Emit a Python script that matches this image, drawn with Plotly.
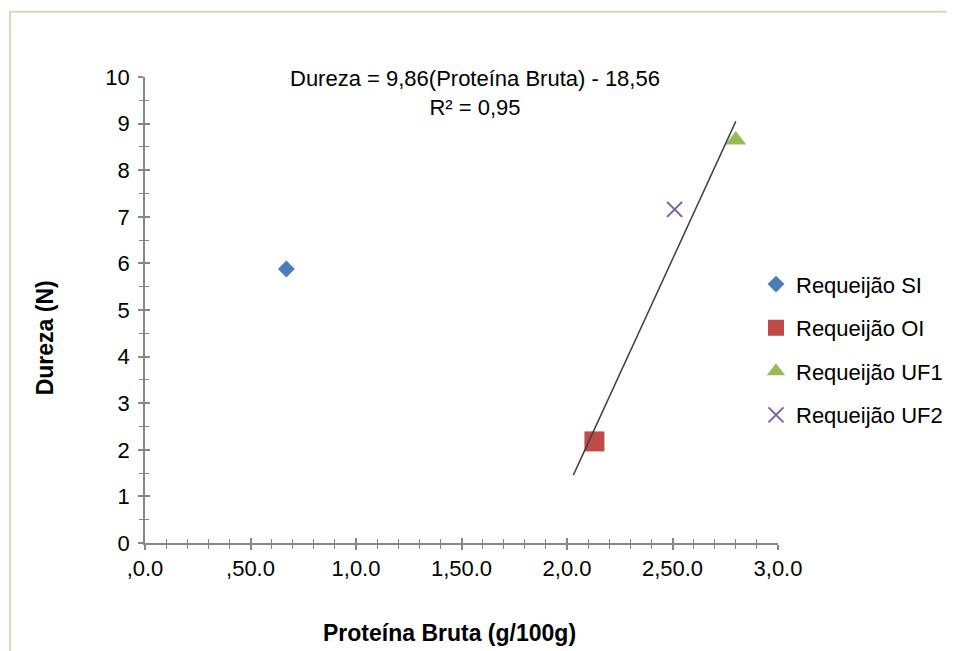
import plotly.graph_objects as go

# ---- data ----
series_names = ["Requeijão SI", "Requeijão OI", "Requeijão UF1", "Requeijão UF2"]
protein = [0.67, 2.13, 2.80, 2.51]
hardness = [5.88, 2.18, 8.65, 7.16]

trend_slope = 9.86
trend_intercept = -18.56
trend_x = [2.03, 2.80]

x_tickvals = [0.0, 0.5, 1.0, 1.5, 2.0, 2.5, 3.0]
x_ticktext = [",0.0", ",50.0", "1,0.0", "1,50.0", "2,0.0", "2,50.0", "3,0.0"]
y_tickvals = [0, 1, 2, 3, 4, 5, 6, 7, 8, 9, 10]

equation_text = "Dureza = 9,86(Proteína Bruta) - 18,56<br>R² = 0,95"
x_title = "Proteína Bruta (g/100g)"
y_title = "Dureza (N)"

# ---- styles ----
colors = ["#4a7ebb", "#be4b48", "#98b954", "#7d60a0"]
symbols = ["diamond", "square", "triangle-up", "x-thin-open"]
sizes = [13, 20, 18, 15]
FONT = "Liberation Sans, Arial, sans-serif"
AXIS_COLOR = "#878787"

# plot area in reference pixel coordinates
PL, PR, PT, PB = 144.0, 777.0, 75.7, 541.7
def px_x(p):
    return (p - PL) / (PR - PL)
def px_y(p):
    return (PB - p) / (PB - PT)

fig = go.Figure()

for i, name in enumerate(series_names):
    fig.add_trace(go.Scatter(
        x=[protein[i]], y=[hardness[i]], mode="markers", name=name,
        legendgroup=name,
        marker=dict(symbol=symbols[i], size=sizes[i], color=colors[i],
                    line=dict(width=2 if i == 3 else 0, color=colors[i])),
    ))

trend_y = [trend_slope * x + trend_intercept for x in trend_x]
fig.add_trace(go.Scatter(x=trend_x, y=trend_y, mode="lines", showlegend=False,
                         line=dict(color="#404040", width=1.5), hoverinfo="skip"))

# overlay axes for the inside half of the crossing ticks
fig.add_trace(go.Scatter(x=[None], y=[None], xaxis="x2", yaxis="y2", showlegend=False))

common = dict(showgrid=False, zeroline=False, tickcolor=AXIS_COLOR, tickwidth=1.5,
              tickfont=dict(family=FONT, size=22, color="#000000"))

fig.update_layout(
    width=955, height=651,
    paper_bgcolor="white", plot_bgcolor="white",
    margin=dict(l=137, r=185, t=69, b=116, autoexpand=False),
    font=dict(family=FONT, color="#000000"),
    xaxis=dict(range=[0, 3.0], tickvals=x_tickvals, ticktext=x_ticktext,
               ticks="outside", ticklen=5, showline=True, linecolor=AXIS_COLOR, linewidth=1.5,
               minor=dict(dtick=0.1, ticks="outside", ticklen=4, tickcolor=AXIS_COLOR, tickwidth=1.2),
               **common),
    yaxis=dict(range=[0, 10], tickvals=y_tickvals, ticks="outside", ticklen=5, showline=True,
               linecolor=AXIS_COLOR, linewidth=1.5, ticklabelstandoff=4,
               minor=dict(dtick=0.5, ticks="outside", ticklen=4, tickcolor=AXIS_COLOR, tickwidth=1.2),
               **common),
    xaxis2=dict(overlaying="x", matches="x", range=[0, 3.0], tickvals=x_tickvals, showticklabels=False,
                ticks="inside", ticklen=5, showline=False, side="bottom", anchor="y2",
                minor=dict(dtick=0.1, ticks="inside", ticklen=4, tickcolor=AXIS_COLOR, tickwidth=1.2),
                **common),
    yaxis2=dict(overlaying="y", matches="y", range=[0, 10], tickvals=y_tickvals, showticklabels=False,
                ticks="inside", ticklen=5, showline=False, side="left", anchor="x2",
                minor=dict(dtick=0.5, ticks="inside", ticklen=4, tickcolor=AXIS_COLOR, tickwidth=1.2),
                **common),
    legend=dict(x=px_x(755), y=px_y(262), xanchor="left", yanchor="top",
                font=dict(family=FONT, size=22), tracegroupgap=12,
                bgcolor="rgba(0,0,0,0)"),
    showlegend=True,
    annotations=[
        dict(text=equation_text, xref="paper", yref="paper", x=px_x(474), y=px_y(91.5),
             xanchor="center", yanchor="middle", showarrow=False,
             font=dict(family=FONT, size=22, color="#000000")),
        dict(text="<b>" + x_title + "</b>", xref="paper", yref="paper", x=px_x(448), y=px_y(632),
             xanchor="center", yanchor="middle", showarrow=False,
             font=dict(family=FONT, size=23, color="#000000")),
        dict(text="<b>" + y_title + "</b>", xref="paper", yref="paper", x=px_x(44), y=px_y(337),
             xanchor="center", yanchor="middle", showarrow=False, textangle=-90,
             font=dict(family=FONT, size=23, color="#000000")),
    ],
    shapes=[dict(type="rect", xref="paper", yref="paper",
                 x0=px_x(9), x1=px_x(975), y0=px_y(680), y1=px_y(10.5),
                 line=dict(color="#ddd6bd", width=2), layer="below")],
)

fig.write_html("out.html")
